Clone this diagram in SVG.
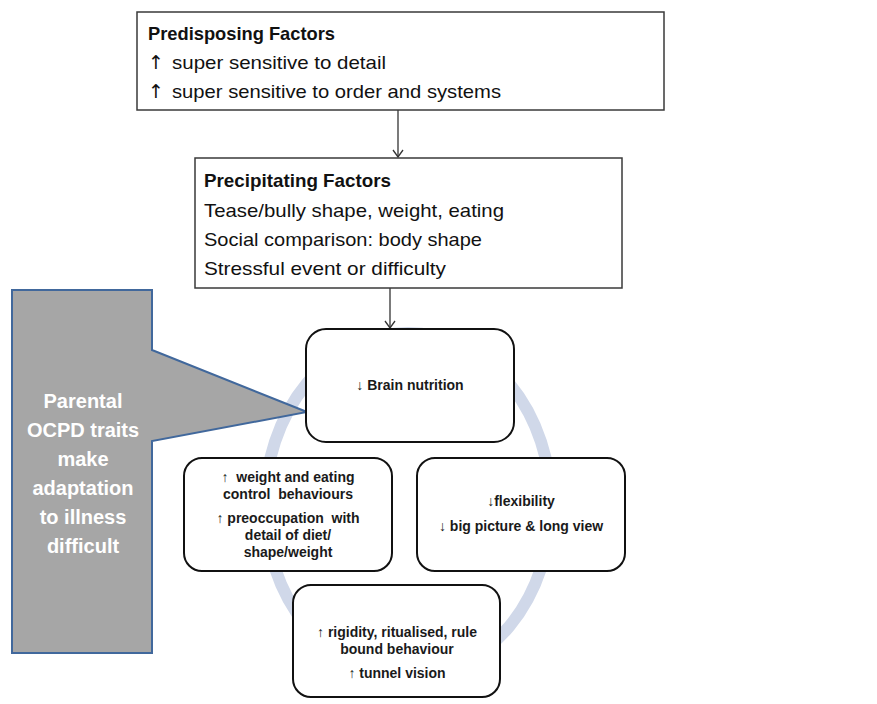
<svg xmlns="http://www.w3.org/2000/svg" width="877" height="704" viewBox="0 0 877 704">
<style>
.rect{fill:#fff;stroke:#3a3a3a;stroke-width:1.5}
.rbox{fill:#fff;stroke:#111;stroke-width:2}
.cal{font-family:"Liberation Sans","Open Sans",Arial,sans-serif;font-size:19px;fill:#111}
.calb{font-family:"Liberation Sans","Open Sans",Arial,sans-serif;font-size:19px;font-weight:bold;fill:#111}
.ar{font-family:"Liberation Sans",Arial,sans-serif;font-size:14px;font-weight:bold;fill:#1a1a1a;text-anchor:middle}
.call{font-family:"Liberation Sans","Open Sans",Arial,sans-serif;font-size:20px;font-weight:bold;fill:#fff;text-anchor:middle}
.conn{stroke:#333;stroke-width:1.3;fill:none}
.arw{font-family:"DejaVu Sans",sans-serif;font-weight:normal;fill:#111}
</style>
<defs>
<marker id="ah" viewBox="0 0 12 12" refX="11" refY="6" markerWidth="12" markerHeight="12" markerUnits="userSpaceOnUse" orient="auto">
<path d="M4,1 L11,6 L4,11" fill="none" stroke="#333" stroke-width="1.3"/>
</marker>
</defs>
<rect width="877" height="704" fill="#fff"/>

<g id="cycle-ring">
<ellipse cx="408" cy="505" rx="143" ry="172" fill="none" stroke="#d0d8e9" stroke-width="12"/>
</g>

<g id="connectors">
<line class="conn" x1="398" y1="110" x2="398" y2="157" marker-end="url(#ah)"/>
<line class="conn" x1="390" y1="288" x2="390" y2="328" marker-end="url(#ah)"/>
</g>

<g id="predisposing">
<rect class="rect" x="137" y="12" width="527" height="98"/>
<text class="calb" x="148" y="40" textLength="187" lengthAdjust="spacingAndGlyphs">Predisposing Factors</text>
<text class="cal" x="148" y="69"><tspan class="arw">↑</tspan><tspan x="172" textLength="214" lengthAdjust="spacingAndGlyphs">super sensitive to detail</tspan></text>
<text class="cal" x="148" y="98"><tspan class="arw">↑</tspan><tspan x="172" textLength="329" lengthAdjust="spacingAndGlyphs">super sensitive to order and systems</tspan></text>
</g>

<g id="precipitating">
<rect class="rect" x="195" y="158" width="427" height="130"/>
<text class="calb" x="204" y="187" textLength="187" lengthAdjust="spacingAndGlyphs">Precipitating Factors</text>
<text class="cal" x="204" y="217" textLength="300" lengthAdjust="spacingAndGlyphs">Tease/bully shape, weight, eating</text>
<text class="cal" x="204" y="246" textLength="278" lengthAdjust="spacingAndGlyphs">Social comparison: body shape</text>
<text class="cal" x="204" y="275" textLength="242" lengthAdjust="spacingAndGlyphs">Stressful event or difficulty</text>
</g>

<g id="callout">
<path d="M12,290 L152,290 L152,350 L307,412 L152,441 L152,653 L12,653 Z" fill="#a6a6a6" stroke="#41689c" stroke-width="2"/>
<text class="call" x="83" y="408">Parental</text>
<text class="call" x="83" y="437">OCPD traits</text>
<text class="call" x="83" y="466">make</text>
<text class="call" x="83" y="495">adaptation</text>
<text class="call" x="83" y="524">to illness</text>
<text class="call" x="83" y="553">difficult</text>
</g>

<g id="brain">
<rect class="rbox" x="306" y="329" width="208" height="113" rx="20"/>
<text class="ar" x="410" y="390">↓ Brain nutrition</text>
</g>

<g id="weight">
<rect class="rbox" x="184" y="458" width="208" height="113" rx="18"/>
<text class="ar" x="288" y="482" xml:space="preserve">↑  weight and eating</text>
<text class="ar" x="288" y="499" xml:space="preserve">control  behaviours</text>
<text class="ar" x="288" y="523" xml:space="preserve">↑ preoccupation  with</text>
<text class="ar" x="288" y="540">detail of diet/</text>
<text class="ar" x="288" y="557">shape/weight</text>
</g>

<g id="flexibility">
<rect class="rbox" x="417" y="458" width="208" height="113" rx="18"/>
<text class="ar" x="521" y="506">↓flexibility</text>
<text class="ar" x="521" y="531">↓ big picture &amp; long view</text>
</g>

<g id="rigidity">
<rect class="rbox" x="293" y="585" width="207" height="112" rx="18"/>
<text class="ar" x="397" y="637">↑ rigidity, ritualised, rule</text>
<text class="ar" x="397" y="654">bound behaviour</text>
<text class="ar" x="397" y="678">↑ tunnel vision</text>
</g>
</svg>
